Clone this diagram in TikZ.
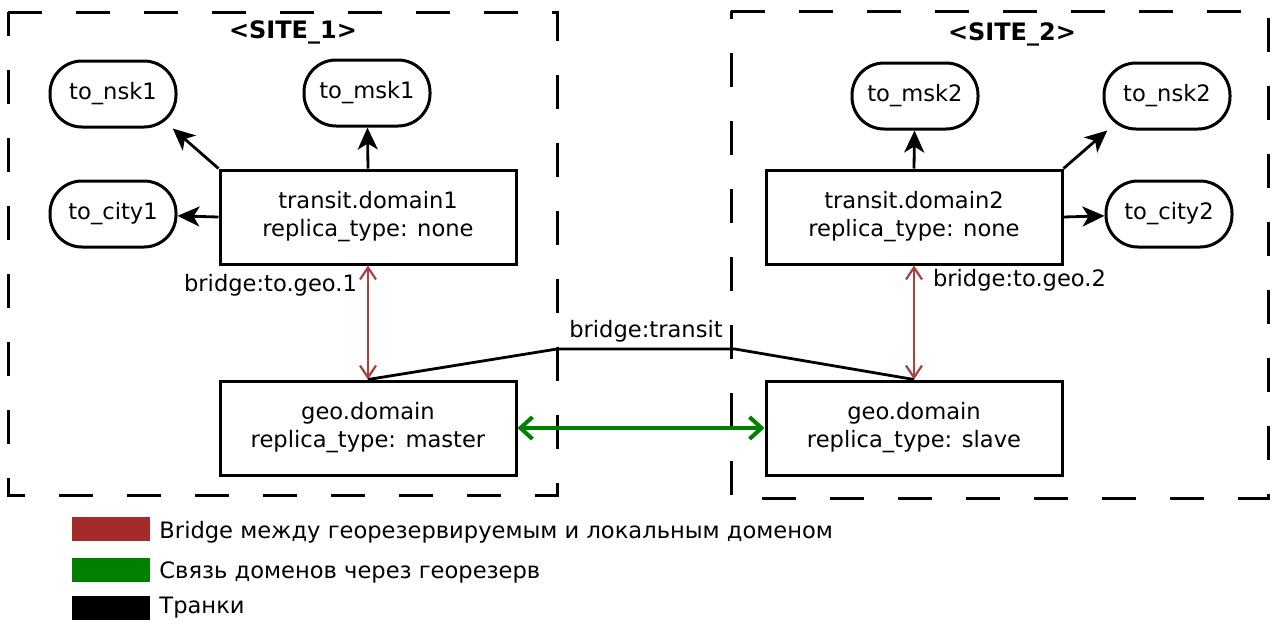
\documentclass[tikz,border=0pt]{standalone}
\usepackage{fontspec}
\setmainfont{DejaVu Sans}
\usetikzlibrary{arrows.meta,calc,positioning}
\definecolor{bridgered}{RGB}{165,42,42}
\definecolor{syncgreen}{RGB}{0,128,0}

\begin{document}
\begin{tikzpicture}[x=0.5pt,y=-0.5pt,
  font=\fontsize{11.3}{14}\selectfont,
  dombox/.style={draw,line width=1.5pt,rectangle,minimum width=148pt,minimum height=47pt,align=center,inner sep=0pt},
  trunkbox/.style={draw,line width=1.5pt,rectangle,rounded corners=16pt,minimum width=63pt,minimum height=33pt,inner sep=0pt},
  sitebox/.style={line width=1.5pt,dash pattern=on 17pt off 17pt},
  tr/.style={line width=1.4pt,-{Stealth[length=11pt,width=10pt,inset=3pt]}},
  geo/.style={line width=1.1pt,color=bridgered!90!white,{Straight Barb[length=6pt,width=8pt]}-{Straight Barb[length=6pt,width=8pt]}},
  sync/.style={line width=2pt,color=syncgreen,{Straight Barb[length=6pt,width=11pt]}-{Straight Barb[length=6pt,width=11pt]}},
  legbox/.style={minimum width=39pt,minimum height=12pt,inner sep=0pt}]
\useasboundingbox (0,0) rectangle (1276,623);
% sites
\draw[sitebox] (8,12) -- (557,12) -- (557,495) -- (8,495) -- cycle;
\draw[sitebox] (731,11) -- (1268,11) -- (1268,498) -- (731,498) -- cycle;
\node[font=\fontsize{12}{14}\bfseries] (s1) at (293,32) {<SITE\_1>};
\node[font=\fontsize{12}{14}\bfseries] (s2) at (1012,34) {<SITE\_2>};
% site 1
\node[dombox] (t1) at (368,217) {transit.domain1\\replica\_type: none};
\node[dombox] (g1) at (368,428) {geo.domain\\replica\_type: master};
\node[trunkbox] (nsk1) at (113,94) {to\_nsk1};
\node[trunkbox] (msk1) at (367,93) {to\_msk1};
\node[trunkbox] (city1) at (113,214) {to\_city1};
% site 2
\node[dombox] (t2) at (914,217) {transit.domain2\\replica\_type: none};
\node[dombox] (g2) at (914,428) {geo.domain\\replica\_type: slave};
\node[trunkbox] (msk2) at (915,96) {to\_msk2};
\node[trunkbox] (nsk2) at (1167,96) {to\_nsk2};
\node[trunkbox] (city2) at (1169,214) {to\_city2};
% trunks
\draw[tr] (t1.north west) -- (nsk1.-30);
\draw[tr] (t1.north) -- (msk1);
\draw[tr] (t1.west) -- (city1);
\draw[tr] (t2.north) -- (msk2);
\draw[tr] (t2.north east) -- (nsk2.210);
\draw[tr] (t2.east) -- (city2);
% bridges
\draw[geo] (t1.south) -- (g1.north);
\draw[geo] (t2.south) -- (g2.north);
\node[anchor=east] (b1) at (364,285) {bridge:to.geo.1};
\node[anchor=west] (b2) at (926,280) {bridge:to.geo.2};
\coordinate (bl) at (557,349);
\coordinate (br) at (735,349);
\draw[line width=1.4pt] (g1.north) -- (bl) -- (br) -- (g2.north);
\node[above] (bt) at ($(bl)!0.5!(br)$) {bridge:transit};
\draw[sync] (g1.east) -- (g2.west);
% legend
\node[legbox,fill=bridgered] (l1) at (111,529) {};
\node[legbox,fill=syncgreen] (l2) at (111,570) {};
\node[legbox,fill=black] (l3) at (111,608) {};
\node[right=1pt of l1,yshift=-1.5pt] (lt1) {Bridge между георезервируемым и локальным доменом};
\node[right=1pt of l2,yshift=-1pt] (lt2) {Связь доменов через георезерв};
\node[right=1pt of l3] (lt3) {Транки};
\end{tikzpicture}
\end{document}
